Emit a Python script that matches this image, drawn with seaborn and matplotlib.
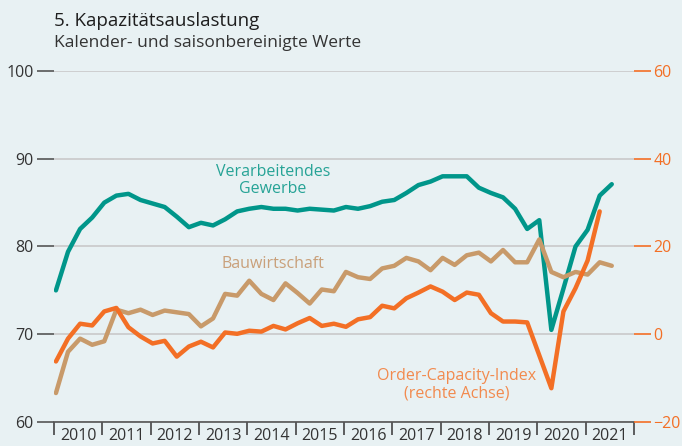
import pandas as pd
import matplotlib
matplotlib.use("Agg")
import matplotlib.pyplot as plt
import seaborn as sns

# quarterly values, 2010Q1 .. 2021Q3
quarters = pd.period_range("2010Q1", "2021Q3", freq="Q")

verarbeitendes_gewerbe = [
    75.0, 79.4, 82.0, 83.3, 85.0, 85.8, 86.0, 85.3, 84.9, 84.5,
    83.4, 82.2, 82.7, 82.4, 83.1, 84.0, 84.3, 84.5, 84.3, 84.3,
    84.1, 84.3, 84.2, 84.1, 84.5, 84.3, 84.6, 85.1, 85.3, 86.1,
    87.0, 87.4, 88.0, 88.0, 88.0, 86.7, 86.1, 85.6, 84.3, 82.0,
    83.0, 70.5, 75.2, 80.0, 81.9, 85.8, 87.1,
]
bauwirtschaft = [
    63.3, 68.0, 69.5, 68.8, 69.2, 72.8, 72.4, 72.8, 72.2, 72.7,
    72.5, 72.3, 70.9, 71.8, 74.6, 74.4, 76.1, 74.6, 73.9, 75.8,
    74.7, 73.5, 75.1, 74.9, 77.1, 76.5, 76.3, 77.5, 77.8, 78.7,
    78.3, 77.3, 78.7, 77.9, 79.0, 79.3, 78.3, 79.6, 78.2, 78.2,
    80.8, 77.1, 76.5, 77.1, 76.8, 78.2, 77.8,
]
# right axis, ends 2021Q2
order_capacity_index = [
    -6.2, -1.0, 2.4, 2.0, 5.2, 6.0, 1.6, -0.5, -2.1, -1.5,
    -5.1, -2.8, -1.7, -3.0, 0.4, 0.1, 0.8, 0.6, 1.9, 1.1,
    2.5, 3.7, 1.9, 2.4, 1.7, 3.4, 3.9, 6.5, 5.9, 8.2,
    9.5, 10.9, 9.7, 7.8, 9.5, 9.0, 4.8, 2.9, 2.9, 2.7,
    -4.8, -12.3, 5.2, 10.5, 16.8, 28.0,
]

years = list(range(2010, 2023))
year_labels = [str(y) for y in range(2010, 2022)]
left_ticks = [60, 70, 80, 90, 100]
right_ticks = [-20, 0, 20, 40, 60]

bg = "#e8f1f3"
teal = "#00968a"
brown = "#c89a6a"
orange = "#f36f25"

sns.set_theme(style="white")
plt.rcParams["font.family"] = ["Open Sans", "DejaVu Sans"]

fig = plt.figure(figsize=(6.82, 4.46), dpi=100, facecolor=bg)
ax = fig.add_axes([54 / 682, 1 - 422 / 446, 580 / 682, 351 / 446])
ax.set_facecolor(bg)

x = quarters.year + (quarters.quarter - 1) / 4 + 0.04

sns.lineplot(x=x, y=verarbeitendes_gewerbe, ax=ax, color=teal, lw=3.2,
             solid_capstyle="round", solid_joinstyle="round")
sns.lineplot(x=x, y=bauwirtschaft, ax=ax, color=brown, lw=3.2,
             solid_capstyle="round", solid_joinstyle="round")

ax2 = ax.twinx()
ax2.patch.set_visible(False)
sns.lineplot(x=x[:len(order_capacity_index)], y=order_capacity_index, ax=ax2,
             color=orange, lw=3.2, solid_capstyle="round", solid_joinstyle="round")

ax.set_xlim(2010, 2022)
ax.set_ylim(60, 100)
ax2.set_ylim(-20, 60)
ax.set_xlabel("")
ax.set_ylabel("")
ax2.set_xlabel("")
ax2.set_ylabel("")

# x axis: year boundaries as ticks, labels in between
ax.set_xticks(years)
ax.set_xticklabels([])
ax.set_xticks([y + 0.5 for y in range(2010, 2022)], minor=True)
ax.set_xticklabels(year_labels, minor=True)
ax.tick_params(axis="x", which="major", bottom=True, direction="out", length=9,
               width=1.2, color="#444444")
ax.tick_params(axis="x", which="minor", bottom=True, length=0, pad=4,
               labelsize=11.5, labelcolor="#333333")

ax.set_yticks(left_ticks)
ax.tick_params(axis="y", left=True, direction="out", length=12.5, width=1.2,
               color="#555555", pad=2, labelsize=11.5, labelcolor="#333333")
ax2.set_yticks(right_ticks)
ax2.set_yticklabels([str(v).replace("-", "\u2212") for v in right_ticks])
ax2.tick_params(axis="y", right=True, direction="out", length=12, width=1.2,
                color=orange, pad=2, labelsize=11.5, labelcolor=orange)

ax.grid(axis="y", color="#c9c9c9", lw=1.2)
ax.grid(axis="x", visible=False)
ax2.grid(False)
ax.set_axisbelow(True)

for s in ["top", "left", "right"]:
    ax.spines[s].set_visible(False)
ax.spines["bottom"].set_color("#555555")
ax.spines["bottom"].set_linewidth(1.2)
for s in ax2.spines.values():
    s.set_visible(False)

# series labels
ax.text(2014.53, 87.5, "Verarbeitendes\nGewerbe", ha="center", va="center",
        color="#26a396", fontsize=11.5, linespacing=1.1)
ax.text(2014.53, 78.0, "Bauwirtschaft", ha="center", va="center",
        color="#c9a07a", fontsize=11.5)
ax.text(2018.33, 64.25, "Order-Capacity-Index\n(rechte Achse)", ha="center",
        va="center", color="#f28a4e", fontsize=11.5, linespacing=1.1)

fig.text(54 / 682, 1 - 26 / 446, "5. Kapazitätsauslastung", fontsize=13.5,
         color="#1e1e1e", va="baseline")
fig.text(54 / 682, 1 - 47 / 446, "Kalender- und saisonbereinigte Werte",
         fontsize=12.5, color="#333333", va="baseline")

fig.savefig("out.png", dpi=100, facecolor=bg)
